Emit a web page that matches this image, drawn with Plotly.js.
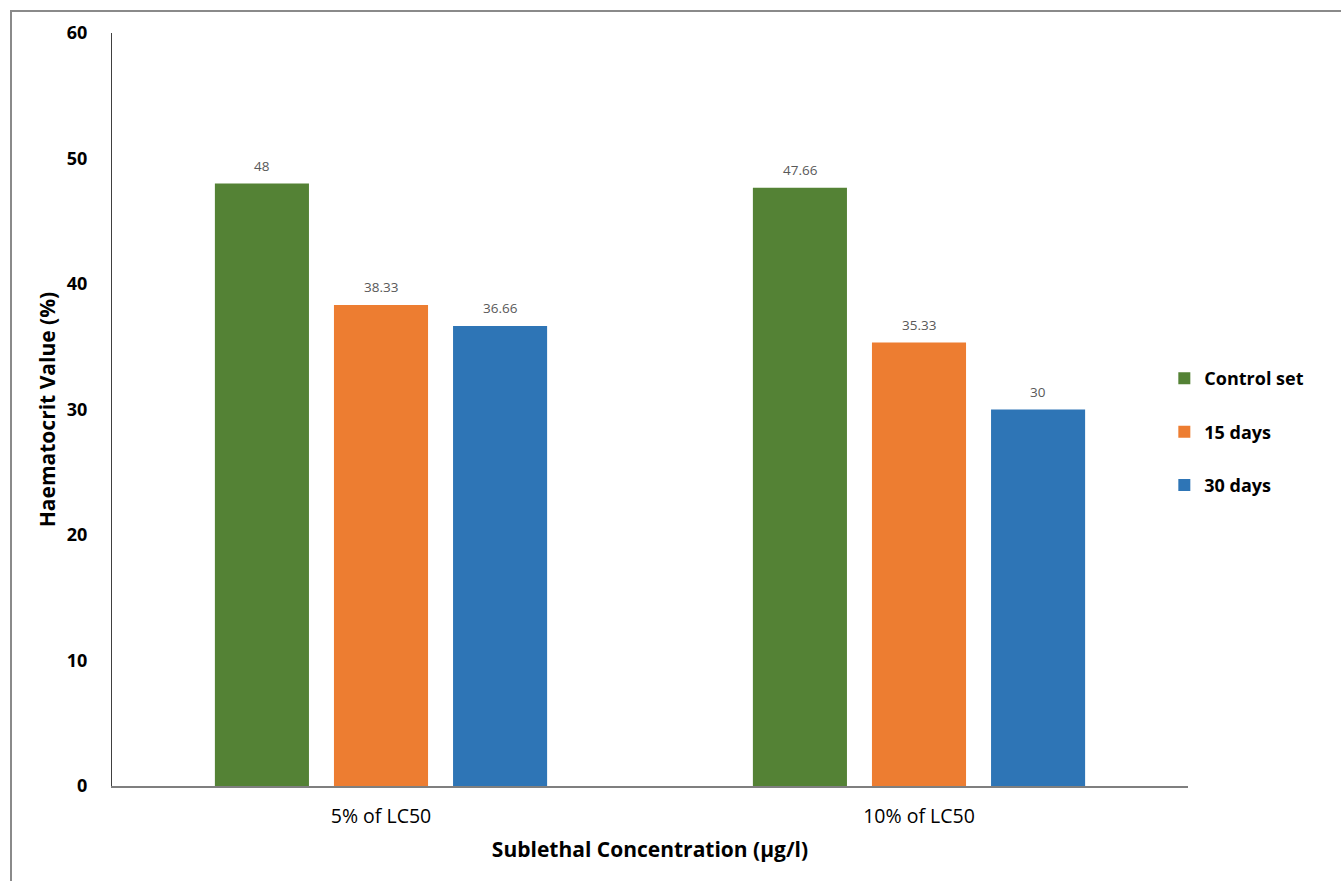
<!DOCTYPE html>
<html>
<head>
<meta charset="utf-8">
<script src="https://cdn.plot.ly/plotly-3.0.1.min.js"></script>
<style>
  html, body { margin: 0; padding: 0; background: #ffffff; }
  #wrap { position: relative; width: 1341px; height: 881px; overflow: hidden; }
  #chart { position: absolute; left: 0; top: 0; width: 1341px; height: 881px; }
  #frame { position: absolute; left: 10px; top: 10px; width: 1400px; height: 900px;
           border-left: 2px solid #8a8a8a; border-top: 2px solid #8a8a8a; pointer-events: none; }
</style>
</head>
<body>
<div id="wrap">
  <div id="chart"></div>
  <div id="frame"></div>
</div>
<script>
// Haematocrit value by sublethal concentration and exposure period
const categories = ["5% of LC50", "10% of LC50"];
const seriesNames = ["Control set", "15 days", "30 days"];
const controlSet = [48, 47.66];
const days15 = [38.33, 35.33];
const days30 = [36.66, 30];
const seriesValues = [controlSet, days15, days30];
const seriesColors = ["#548235", "#ED7D31", "#2E75B6"];

const font = "Open Sans, Noto Sans, sans-serif";

const traces = seriesValues.map((vals, i) => ({
  type: "bar",
  name: seriesNames[i],
  x: categories,
  y: vals,
  marker: { color: seriesColors[i] },
  legendgroup: "g" + i,
  hoverinfo: "x+y+name"
}));

// value labels above each bar (slot spacing within a group is 119 px)
const slotPx = 119;
const annotations = [];
seriesValues.forEach((vals, i) => {
  vals.forEach((v, j) => {
    annotations.push({
      x: categories[j], y: v, xref: "x", yref: "y",
      xshift: (i - 1) * slotPx, yshift: 7,
      text: String(v), showarrow: false, yanchor: "bottom",
      font: { family: font, size: 13.5, color: "#595959" }
    });
  });
});

const layout = {
  width: 1341, height: 881,
  margin: { l: 112, r: 153, t: 33, b: 95, pad: 0 },
  paper_bgcolor: "#ffffff", plot_bgcolor: "#ffffff",
  barmode: "group",
  bargap: 0.336,
  bargroupgap: 0.21,
  showlegend: true,
  legend: {
    x: 0.978, xanchor: "left", y: 0.47, yanchor: "middle",
    traceorder: "grouped", tracegroupgap: 27,
    font: { family: font, size: 18, color: "#000000", weight: "bold" },
    bgcolor: "rgba(0,0,0,0)"
  },
  xaxis: {
    type: "category",
    showline: true, linecolor: "#7f7f7f", linewidth: 2,
    showgrid: false, zeroline: false,
    ticks: "", ticklabelstandoff: 12,
    tickfont: { family: font, size: 19.5, color: "#000000" },
    title: { text: "Sublethal Concentration (μg/l)", standoff: 14,
             font: { family: font, size: 21, color: "#000000", weight: "bold" } }
  },
  yaxis: {
    range: [0, 60], dtick: 10, tick0: 0,
    showline: true, linecolor: "#404040", linewidth: 1,
    showgrid: false, zeroline: false,
    ticks: "", ticklabelstandoff: 20,
    tickfont: { family: font, size: 18, color: "#000000", weight: "bold" },
    title: { text: "Haematocrit Value (%)", standoff: 5,
             font: { family: font, size: 21, color: "#000000", weight: "bold" } }
  },
  annotations: annotations
};

Plotly.newPlot("chart", traces, layout, { displayModeBar: false, responsive: false });
</script>
</body>
</html>
